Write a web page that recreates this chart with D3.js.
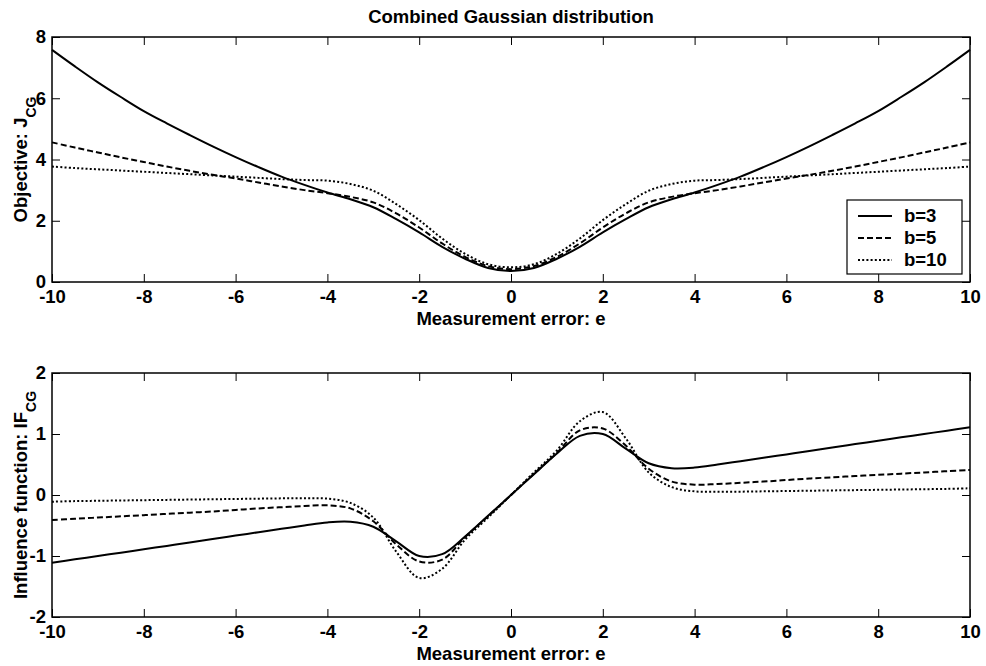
<!DOCTYPE html>
<html>
<head>
<meta charset="utf-8">
<script src="https://cdn.jsdelivr.net/npm/d3@7"></script>
<style>
  body { margin: 0; background: #fff; }
  text { font-family: "Liberation Sans", Arial, Helvetica, sans-serif; font-weight: bold; }
</style>
</head>
<body>
<div id="chart"></div>
<script>
"use strict";

// Measurement error samples
var errors = [-10, -9.5, -9, -8.5, -8, -7.5, -7, -6.5, -6, -5.5, -5, -4.5, -4, -3.5, -3, -2.5, -2, -1.5, -1, -0.5,
              0, 0.5, 1, 1.5, 2, 2.5, 3, 3.5, 4, 4.5, 5, 5.5, 6, 6.5, 7, 7.5, 8, 8.5, 9, 9.5, 10];

// Objective J_CG
var objB3 = [7.58, 7.04, 6.52, 6.04, 5.58, 5.18, 4.80, 4.43, 4.08, 3.75, 3.44, 3.17, 2.92, 2.70, 2.44, 2.05, 1.62, 1.15, 0.76, 0.46,
             0.36, 0.46, 0.76, 1.15, 1.62, 2.05, 2.44, 2.70, 2.92, 3.17, 3.44, 3.75, 4.08, 4.43, 4.80, 5.18, 5.58, 6.04, 6.52, 7.04, 7.58];
var objB5 = [4.56, 4.39, 4.23, 4.07, 3.92, 3.77, 3.63, 3.50, 3.38, 3.25, 3.12, 3.00, 2.90, 2.78, 2.60, 2.24, 1.78, 1.26, 0.82, 0.52,
             0.42, 0.52, 0.82, 1.26, 1.78, 2.24, 2.60, 2.78, 2.90, 3.00, 3.12, 3.25, 3.38, 3.50, 3.63, 3.77, 3.92, 4.07, 4.23, 4.39, 4.56];
var objB10 = [3.77, 3.72, 3.68, 3.64, 3.60, 3.56, 3.52, 3.48, 3.44, 3.40, 3.36, 3.33, 3.31, 3.20, 2.98, 2.54, 2.02, 1.42, 0.92, 0.58,
              0.48, 0.58, 0.92, 1.42, 2.02, 2.54, 2.98, 3.20, 3.31, 3.33, 3.36, 3.40, 3.44, 3.48, 3.52, 3.56, 3.60, 3.64, 3.68, 3.72, 3.77];

// Influence function IF_CG
var infB3 = [-1.11, -1.055, -1.00, -0.945, -0.89, -0.835, -0.78, -0.72, -0.665, -0.61, -0.555, -0.50, -0.45, -0.44, -0.52, -0.76, -1.00, -0.97, -0.68, -0.34,
             0, 0.34, 0.68, 0.97, 1.00, 0.76, 0.52, 0.44, 0.45, 0.50, 0.555, 0.61, 0.665, 0.72, 0.78, 0.835, 0.89, 0.945, 1.00, 1.055, 1.11];
var infB5 = [-0.41, -0.39, -0.37, -0.35, -0.33, -0.31, -0.29, -0.27, -0.245, -0.22, -0.20, -0.18, -0.17, -0.22, -0.43, -0.81, -1.09, -1.06, -0.69, -0.35,
             0, 0.35, 0.69, 1.06, 1.09, 0.81, 0.43, 0.22, 0.17, 0.18, 0.20, 0.22, 0.245, 0.27, 0.29, 0.31, 0.33, 0.35, 0.37, 0.39, 0.41];
var infB10 = [-0.11, -0.10, -0.095, -0.09, -0.085, -0.08, -0.075, -0.07, -0.065, -0.06, -0.055, -0.055, -0.06, -0.13, -0.37, -0.93, -1.36, -1.21, -0.73, -0.37,
              0, 0.37, 0.73, 1.21, 1.36, 0.93, 0.37, 0.13, 0.06, 0.055, 0.055, 0.06, 0.065, 0.07, 0.075, 0.08, 0.085, 0.09, 0.095, 0.10, 0.11];

var seriesNames = ["b=3", "b=5", "b=10"];
var dashes = [null, "6,3", "2,2.2"];

var xTicks = [-10, -8, -6, -4, -2, 0, 2, 4, 6, 8, 10];
var objTicks = [0, 2, 4, 6, 8];
var infTicks = [-2, -1, 0, 1, 2];

var W = 986, H = 666;
var left = 52, right = 970;
var fontSize = 18.5;

// plain hyphen minus, like the original figure
function fmt(d) { return String(d); }

let svg = d3.select("#chart").append("svg")
  .attr("width", W)
  .attr("height", H);

let x = d3.scaleLinear().domain([-10, 10]).range([left, right]);

function panel(top, bottom, yDomain, yTicks, series, labelMain, labelSub) {
  let y = d3.scaleLinear().domain(yDomain).range([bottom, top]);
  let g = svg.append("g");
  let h = bottom - top;

  // Ticks pointing inwards on all four sides
  g.append("g")
   .attr("transform", "translate(0," + bottom + ")")
   .call(d3.axisBottom(x).tickValues(xTicks).tickSize(-8).tickSizeOuter(0).tickPadding(8).tickFormat(fmt));
  g.append("g")
   .attr("transform", "translate(0," + top + ")")
   .call(d3.axisTop(x).tickValues(xTicks).tickSize(-8).tickSizeOuter(0).tickFormat(""));
  g.append("g")
   .attr("transform", "translate(" + left + ",0)")
   .call(d3.axisLeft(y).tickValues(yTicks).tickSize(-8).tickSizeOuter(0).tickPadding(6).tickFormat(fmt));
  g.append("g")
   .attr("transform", "translate(" + right + ",0)")
   .call(d3.axisRight(y).tickValues(yTicks).tickSize(-8).tickSizeOuter(0).tickFormat(""));

  g.selectAll(".domain").remove();
  g.selectAll(".tick line").attr("stroke", "#000").attr("stroke-width", 1);
  g.selectAll(".tick text")
   .attr("fill", "#000")
   .attr("font-size", fontSize + "px")
   .attr("font-family", null);

  // Frame
  g.append("rect")
   .attr("x", left)
   .attr("y", top)
   .attr("width", right - left)
   .attr("height", h)
   .attr("fill", "none")
   .attr("stroke", "#000")
   .attr("stroke-width", 1.5);

  // Curves
  let line = d3.line()
    .x(function(d, i) { return x(errors[i]); })
    .y(function(d) { return y(d); })
    .curve(d3.curveCatmullRom.alpha(0.5));

  series.forEach(function(s, i) {
    g.append("path")
     .datum(s)
     .attr("d", line)
     .attr("fill", "none")
     .attr("stroke", "#000")
     .attr("stroke-width", 2)
     .attr("stroke-dasharray", dashes[i]);
  });

  // x label
  g.append("text")
   .attr("x", (left + right) / 2)
   .attr("y", bottom + 43)
   .attr("text-anchor", "middle")
   .attr("font-size", fontSize + "px")
   .text("Measurement error: e");

  // y label with subscript
  let yl = g.append("text")
   .attr("transform", "translate(27," + (top + h / 2) + ") rotate(-90)")
   .attr("text-anchor", "middle")
   .attr("font-size", fontSize + "px");
  yl.append("tspan").text(labelMain);
  yl.append("tspan").attr("font-size", "14px").attr("dy", 9).text(labelSub);

  return y;
}

panel(37, 282, [0, 8], objTicks, [objB3, objB5, objB10], "Objective: J", "CG");
panel(373, 617, [-2, 2], infTicks, [infB3, infB5, infB10], "Influence function: IF", "CG");

// Title
svg.append("text")
 .attr("x", 511)
 .attr("y", 23)
 .attr("text-anchor", "middle")
 .attr("font-size", fontSize + "px")
 .text("Combined Gaussian distribution");

// Legend
let lg = svg.append("g");
lg.append("rect")
  .attr("x", 847)
  .attr("y", 200)
  .attr("width", 115)
  .attr("height", 74)
  .attr("fill", "#fff")
  .attr("stroke", "#000")
  .attr("stroke-width", 1.2);

seriesNames.forEach(function(name, i) {
  let ly = 216 + i * 22;
  lg.append("line")
    .attr("x1", 858)
    .attr("x2", 892)
    .attr("y1", ly)
    .attr("y2", ly)
    .attr("stroke", "#000")
    .attr("stroke-width", 2)
    .attr("stroke-dasharray", dashes[i]);
  lg.append("text")
    .attr("x", 904)
    .attr("y", ly)
    .attr("dy", "0.35em")
    .attr("font-size", fontSize + "px")
    .text(name);
});
</script>
</body>
</html>
